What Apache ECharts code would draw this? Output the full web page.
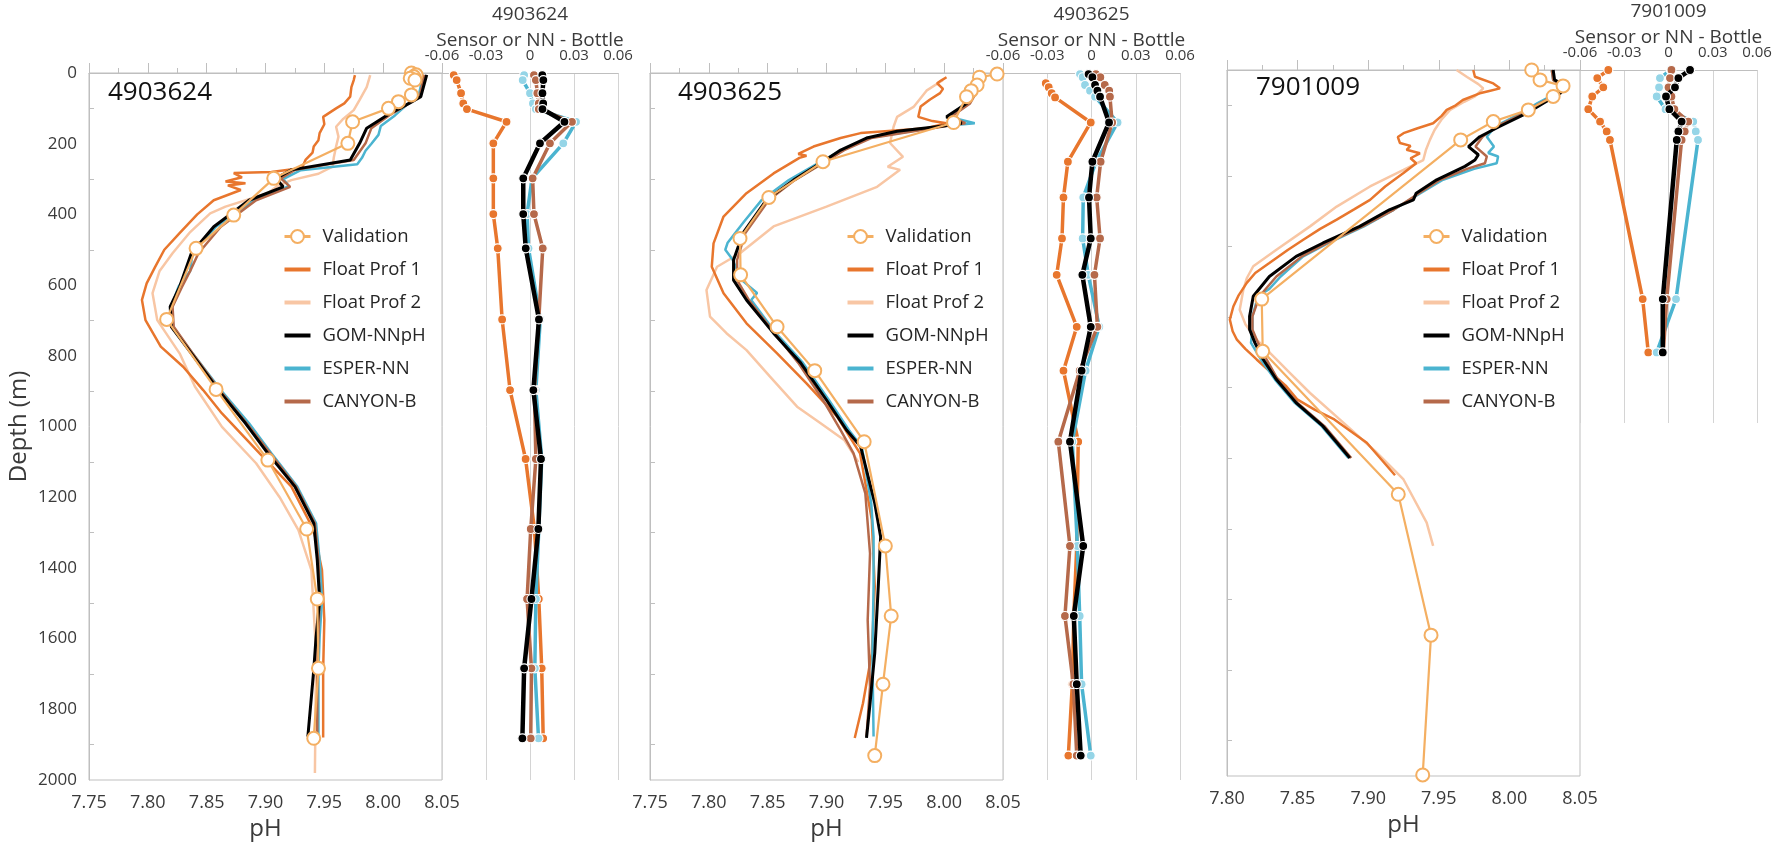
<!DOCTYPE html>
<html><head><meta charset="utf-8">
<script src="https://cdn.jsdelivr.net/npm/echarts/dist/echarts.min.js"></script>
<style>html,body{margin:0;padding:0;background:#fff}#c{width:1772px;height:847px}</style>
</head><body><div id="c"></div><script>
// ---------- Panel 1 (4903624) ----------
const P1_VAL_D  = [0,5,10,15,20,62,81,100,138,199,298,402,496,697,895,1095,1290,1488,1684,1882];
const P1_VAL_PH = [8.024,8.028,8.026,8.023,8.027,8.024,8.013,8.0045,7.974,7.970,7.907,7.873,7.841,7.816,7.858,7.902,7.935,7.944,7.945,7.941];
const P1_F1_D  = [6,20,40,67,86,100,124,145,170,190,208,225,246,269,280,283,295,307,312,318,331,360,400,453,500,550,595,642,699,774,831,897,963,1076,1170,1293,1406,1547,1689,1880];
const P1_F1_PH = [7.976,7.975,7.973,7.972,7.967,7.960,7.949,7.950,7.946,7.945,7.941,7.940,7.934,7.931,7.905,7.873,7.880,7.866,7.883,7.868,7.879,7.856,7.842,7.827,7.814,7.806,7.799,7.795,7.798,7.811,7.830,7.847,7.863,7.895,7.922,7.941,7.948,7.950,7.949,7.949];
const P1_F2_D  = [6,40,76,105,130,152,180,208,240,265,285,303,320,340,378,397,450,510,560,623,699,793,887,1001,1104,1200,1293,1406,1642,1980];
const P1_F2_PH = [7.989,7.986,7.980,7.975,7.966,7.960,7.962,7.960,7.958,7.957,7.945,7.922,7.910,7.902,7.866,7.853,7.836,7.821,7.810,7.804,7.808,7.827,7.840,7.863,7.892,7.912,7.928,7.939,7.943,7.942];
const P1_GOM_D  = [5,67,86,114,156,199,246,274,298,322,360,435,510,605,661,718,793,897,991,1076,1170,1274,1378,1491,1595,1689,1877];
const P1_GOM_PH = [8.037,8.032,8.022,8.006,7.986,7.980,7.972,7.922,7.909,7.915,7.886,7.856,7.837,7.827,7.819,7.820,7.837,7.860,7.883,7.902,7.925,7.941,7.944,7.946,7.943,7.941,7.936];
const P1_ESP_D  = [5,67,90,120,150,175,200,220,240,258,275,300,320,360,435,510,560,605,661,718,793,897,991,1076,1170,1274,1378,1491,1595,1689,1877];
const P1_ESP_PH = [8.034,8.030,8.020,8.010,7.998,7.996,7.990,7.985,7.982,7.978,7.930,7.915,7.920,7.890,7.858,7.838,7.836,7.826,7.820,7.821,7.838,7.862,7.886,7.905,7.927,7.943,7.946,7.948,7.946,7.945,7.945];
const P1_CAN_D  = [5,67,90,120,156,199,246,274,298,322,360,435,510,560,605,661,718,793,897,991,1076,1170,1274,1378,1491,1595,1689,1877];
const P1_CAN_PH = [8.035,8.031,8.020,8.005,7.990,7.985,7.975,7.925,7.913,7.921,7.892,7.862,7.843,7.836,7.829,7.821,7.822,7.838,7.861,7.884,7.904,7.926,7.942,7.945,7.946,7.945,7.944,7.944];
const P1_DIFF_D   = [6,20,57,86,102,138,199,298,399,496,697,897,1092,1290,1488,1684,1882];
const P1_DIFF_F1  = [-0.052,-0.050,-0.047,-0.0455,-0.043,-0.016,-0.025,-0.025,-0.025,-0.022,-0.019,-0.0136,-0.003,0.003,0.006,0.008,0.009];
const P1_DIFF_GOM = [0.0084,0.0091,0.0085,0.009,0.0085,0.0235,0.0068,-0.0046,-0.0046,-0.0029,0.0061,0.0023,0.0075,0.0057,0.001,-0.004,-0.0052];
const P1_DIFF_ESP = [-0.004,-0.005,0.0,0.002,0.004,0.0314,0.0227,0.0014,-0.002,-0.001,0.007,0.004,0.008,0.006,0.004,0.0033,0.0058];
const P1_DIFF_CAN = [0.0027,0.004,0.005,0.006,0.006,0.0286,0.0136,0.0018,0.0027,0.0087,0.006,0.003,0.004,0.0005,-0.002,0.001,0.0005];

// ---------- Panel 2 (4903625) ----------
const P2_VAL_D  = [3,12,34,50,67,140,251,352,468,571,718,842,1043,1338,1536,1729,1931];
const P2_VAL_PH = [8.045,8.030,8.028,8.023,8.019,8.008,7.897,7.851,7.8265,7.827,7.858,7.890,7.932,7.950,7.955,7.948,7.941];
const P2_F1_D  = [12,20,29,45,57,75,95,124,136,142,156,170,184,208,229,234,240,284,340,406,482,548,623,708,793,878,972,1076,1264,1453,1641,1783,1881];
const P2_F1_PH = [8.002,7.998,7.994,7.999,7.9965,7.988,7.980,7.978,7.990,8.002,7.985,7.929,7.912,7.889,7.876,7.883,7.877,7.855,7.832,7.8125,7.804,7.8025,7.8125,7.832,7.858,7.883,7.909,7.9285,7.9385,7.941,7.9385,7.931,7.924];
const P2_F2_D  = [20,50,96,124,152,198,237,265,274,322,378,434,510,548,614,689,736,784,859,944,991,1038,1100];
const P2_F2_PH = [7.999,7.985,7.974,7.960,7.957,7.954,7.965,7.952,7.9625,7.943,7.900,7.855,7.8265,7.807,7.798,7.801,7.815,7.832,7.852,7.875,7.895,7.915,7.927];
const P2_GOM_D  = [3,39,86,124,135,142,150,165,184,218,255,303,359,453,529,586,642,736,820,925,1010,1057,1217,1312,1453,1641,1783,1881];
const P2_GOM_PH = [8.029,8.028,8.019,8.002,8.008,8.015,7.999,7.960,7.934,7.912,7.895,7.872,7.849,7.829,7.821,7.821,7.832,7.855,7.878,7.900,7.917,7.929,7.941,7.946,7.944,7.941,7.937,7.934];
const P2_ESP_D  = [3,39,86,124,142,150,184,218,255,303,359,420,480,500,527,586,622,642,736,820,925,1010,1057,1217,1312,1453,1641,1877];
const P2_ESP_PH = [8.028,8.027,8.018,8.004,8.026,8.000,7.935,7.913,7.893,7.868,7.845,7.830,7.816,7.814,7.820,7.828,7.841,7.836,7.857,7.880,7.902,7.919,7.930,7.938,7.940,7.940,7.939,7.940];
const P2_CAN_D  = [3,39,86,124,142,150,184,218,255,303,359,453,529,586,642,736,820,925,1010,1076,1189,1359,1548,1736,1877];
const P2_CAN_PH = [8.030,8.030,8.022,8.006,8.018,8.002,7.938,7.915,7.897,7.873,7.851,7.831,7.824,7.824,7.834,7.856,7.876,7.897,7.912,7.923,7.933,7.937,7.935,7.937,7.934];
const P2_DIFF_D   = [3,12,34,50,67,140,251,352,468,571,718,842,1043,1338,1536,1729,1931];
const P2_DIFF_GOM = [-0.002,0.0006,0.0024,0.004,0.0058,0.0119,0.0006,-0.0017,-0.0005,-0.0062,-0.0005,-0.0067,-0.0146,-0.0056,-0.012,-0.010,-0.0073];
const P2_DIFF_ESP = [-0.0078,-0.006,-0.0044,-0.001,0.0024,0.0177,0.0031,-0.0056,-0.006,-0.0022,0.0053,-0.004,-0.013,-0.0096,-0.008,-0.0067,-0.0005];
const P2_DIFF_CAN = [0.003,0.006,0.009,0.012,0.0125,0.014,0.0062,0.0035,0.0058,0.002,0.004,-0.008,-0.0225,-0.0146,-0.018,-0.0123,-0.010];
const P2_DIFF_F1_D = [29,40,57,69,140,251,352,468,571,718,842,1043,1338,1536,1729,1931];
const P2_DIFF_F1   = [-0.031,-0.029,-0.027,-0.0247,-0.0005,-0.016,-0.019,-0.020,-0.0236,-0.010,-0.019,-0.009,-0.010,-0.012,-0.013,-0.0157];

// ---------- Panel 3 (7901009) ----------
const P3_VAL_D  = [0,28,45,75,113,146,198,649,797,1202,1601,1997];
const P3_VAL_PH = [8.0158,8.0217,8.038,8.031,8.0134,7.9886,7.9655,7.8246,7.8253,7.9213,7.9445,7.9386];
const P3_F1_D  = [0,19,38,52,60,66,85,100,113,130,151,165,179,190,207,215,226,236,250,264,292,330,368,395,424,450,481,510,547,575,603,640,670,707,740,764,790,820,860,896,934,962,990,1056,1148];
const P3_F1_PH = [7.9744,7.9756,7.9886,7.9933,7.985,7.979,7.967,7.962,7.9556,7.952,7.946,7.935,7.925,7.921,7.9225,7.930,7.9272,7.9366,7.930,7.934,7.925,7.912,7.9013,7.890,7.8777,7.866,7.854,7.843,7.830,7.820,7.814,7.808,7.8045,7.802,7.804,7.807,7.813,7.821,7.832,7.842,7.850,7.862,7.876,7.899,7.919];
const P3_F2_D  = [0,20,40,52,75,90,113,140,170,198,225,255,283,330,387,443,509,556,590,622,679,720,764,820,860,915,999,1080,1160,1282,1348];
const P3_F2_PH = [7.9626,7.970,7.978,7.9815,7.9756,7.968,7.958,7.952,7.947,7.9437,7.941,7.939,7.925,7.9013,7.8777,7.8588,7.835,7.8186,7.814,7.8116,7.809,7.813,7.821,7.835,7.845,7.8588,7.8824,7.905,7.925,7.9414,7.946];
const P3_GOM_D  = [0,28,47,66,94,123,160,189,217,240,255,273,311,349,368,396,443,490,528,585,641,698,735,773,820,877,943,1009,1099];
const P3_GOM_PH = [8.031,8.032,8.0405,8.036,8.024,8.012,7.993,7.979,7.971,7.978,7.9756,7.9685,7.9485,7.934,7.932,7.915,7.894,7.868,7.849,7.830,7.8186,7.816,7.816,7.8198,7.8257,7.835,7.849,7.868,7.887];
const P3_ESP_D  = [0,28,47,66,94,123,160,189,217,235,245,264,280,311,349,396,443,490,528,560,585,620,641,698,735,773,820,877,943,1009,1099];
const P3_ESP_PH = [8.030,8.031,8.039,8.033,8.020,8.008,7.990,7.984,7.989,7.985,7.992,7.991,7.975,7.953,7.937,7.918,7.897,7.872,7.854,7.845,7.838,7.830,7.822,7.818,7.818,7.817,7.824,7.834,7.848,7.867,7.886];
const P3_CAN_D  = [0,28,47,66,94,123,160,189,217,245,264,280,311,349,396,443,490,528,585,641,698,735,773,820,877,943,1009,1099];
const P3_CAN_PH = [8.030,8.031,8.038,8.034,8.022,8.010,7.991,7.981,7.976,7.984,7.9827,7.970,7.951,7.936,7.918,7.896,7.871,7.853,7.835,7.823,7.818,7.818,7.822,7.828,7.836,7.850,7.869,7.888];
const P3_DIFF_D   = [0,23,49,75,111,146,174,198,649,800];
const P3_DIFF_F1  = [-0.0408,-0.0483,-0.0442,-0.0517,-0.0544,-0.0464,-0.0419,-0.0397,-0.0175,-0.0137];
const P3_DIFF_GOM = [0.0146,0.0067,0.0044,-0.0017,0.0006,0.0089,0.0067,0.0056,-0.0039,-0.0039];
const P3_DIFF_ESP = [0.0015,-0.0058,-0.0064,-0.008,-0.002,0.0168,0.0185,0.020,0.0051,-0.008];
const P3_DIFF_CAN = [0.002,0.001,0.0,0.002,0.004,0.0134,0.011,0.0089,-0.0012,-0.0035];

// ---------- labels ----------
const PANEL_IDS = ['4903624','4903625','7901009'];
const SERIES_NAMES = ['Validation','Float Prof 1','Float Prof 2','GOM-NNpH','ESPER-NN','CANYON-B'];
const DIFF_TITLE = 'Sensor or NN - Bottle';
const DEPTH_TICKS = [0,2000,200];
const PH_TICKS_A = [7.75,8.05,0.05];
const PH_TICKS_B = [7.80,8.05,0.05];
const DIFF_TICKS = [-0.06,0.06,0.03];

// ---------- styling ----------
const C_VAL='#F4AF62', C_F1='#E8762D', C_F2='#F8C6A4', C_GOM='#000000', C_ESP='#4BB4D0', C_ESP_M='#95D5E7', C_CAN='#B5694A';
const GRAY='#BFBFBF', GRID_GRAY='#D4D4D4', TXT='#3a3a3a';
const FONT='"Open Sans", "Noto Sans", sans-serif';
const BAR_ICON='path://M0,0 M0,6 L26,6 L26,10 L0,10 Z M26,16';

function pts(vals, depths){ return vals.map((v,i)=>[v, depths[i]]); }

const grids = [
  {left:89,  top:73, width:353, height:707, show:true, borderColor:GRAY, borderWidth:1},
  {left:442, top:73, width:176, height:707},
  {left:650, top:73, width:353, height:707, show:true, borderColor:GRAY, borderWidth:1},
  {left:1003,top:73, width:177, height:707},
  {left:1227,top:70, width:353, height:706, show:true, borderColor:GRAY, borderWidth:1},
  {left:1580,top:70, width:177, height:353}
].map(g=>Object.assign({outerBoundsMode:'none', containLabel:false}, g));

function mainX(gi, ticks){
  return {gridIndex:gi, type:'value', position:'bottom', min:ticks[0], max:ticks[1], interval:ticks[2],
    name:'pH', nameLocation:'middle', nameGap:37, nameMoveOverlap:false, nameTextStyle:{fontSize:24, color:TXT, fontFamily:FONT},
    axisLine:{show:true, lineStyle:{color:GRAY, width:1}},
    axisTick:{show:true, inside:true, length:10, lineStyle:{color:GRAY}},
    minorTick:{show:true, splitNumber:2, length:5, lineStyle:{color:GRAY}},
    splitLine:{show:false},
    axisLabel:{fontSize:18, color:TXT, fontFamily:FONT, margin:14, hideOverlap:false, showMinLabel:true, showMaxLabel:true,
      formatter:v=>v.toFixed(2)}};
}
function diffX(gi, title){
  return {gridIndex:gi, type:'value', position:'top', min:DIFF_TICKS[0], max:DIFF_TICKS[1], interval:DIFF_TICKS[2],
    name:title+'\n'+DIFF_TITLE, nameLocation:'middle', nameGap:19.5, nameMoveOverlap:false,
    nameTextStyle:{fontSize:19, color:TXT, fontFamily:FONT, lineHeight:26},
    axisLine:{show:true, lineStyle:{color:GRAY, width:1}},
    axisTick:{show:false},
    splitLine:{show:true, lineStyle:{color:GRID_GRAY, width:1}},
    axisLabel:{fontSize:15, color:TXT, fontFamily:FONT, margin:10, hideOverlap:false, showMinLabel:true, showMaxLabel:true,
      formatter:v=>Math.abs(v)<1e-9?'0':v.toFixed(2)}};
}
function mainY(gi, withLabels){
  const y = {gridIndex:gi, type:'value', inverse:true, min:DEPTH_TICKS[0], max:DEPTH_TICKS[1], interval:DEPTH_TICKS[2],
    axisLine:{show:true, lineStyle:{color:GRAY, width:1}},
    axisTick:{show:false, inside:true},
    minorTick:{show:true, splitNumber:2, length:5, lineStyle:{color:GRAY}},
    splitLine:{show:false},
    axisLabel:{show:withLabels, fontSize:17, color:TXT, fontFamily:FONT, margin:12, hideOverlap:false, showMinLabel:true, showMaxLabel:true,
      formatter:v=>String(Math.round(v))}};
  if(withLabels){ y.name='Depth (m)'; y.nameLocation='middle'; y.nameRotate=90; y.nameGap=58; y.nameMoveOverlap=false;
    y.nameTextStyle={fontSize:24, color:TXT, fontFamily:FONT}; }
  return y;
}
function diffY(gi, max){
  return {gridIndex:gi, type:'value', inverse:true, min:0, max:max, show:false, splitLine:{show:false}};
}

const xAxes=[mainX(0,PH_TICKS_A), diffX(1,PANEL_IDS[0]), mainX(2,PH_TICKS_A), diffX(3,PANEL_IDS[1]), mainX(4,PH_TICKS_B), diffX(5,PANEL_IDS[2])];
const yAxes=[mainY(0,true), diffY(1,2000), mainY(2,false), diffY(3,2000), mainY(4,false), diffY(5,1000)];

function line(name, gi, vals, depths, color, width, z){
  return {type:'line', name, xAxisIndex:gi, yAxisIndex:gi, data:pts(vals,depths), symbol:'none', showSymbol:false,
    lineStyle:{color, width}, itemStyle:{color}, z, animation:false, silent:true};
}
function valid(gi, vals, depths){
  return {type:'line', name:'Validation', xAxisIndex:gi, yAxisIndex:gi, data:pts(vals,depths), symbol:'emptyCircle', symbolSize:13,
    showSymbol:true, showAllSymbol:true, lineStyle:{color:C_VAL, width:2.2}, itemStyle:{color:C_VAL, borderColor:C_VAL, borderWidth:2.2},
    z:8, animation:false, silent:true};
}
function diff(name, gi, vals, depths, color, mColor, z, w){
  return {type:'line', name, xAxisIndex:gi, yAxisIndex:gi, data:pts(vals,depths), symbol:'circle', symbolSize:9,
    showSymbol:true, showAllSymbol:true, lineStyle:{color, width:w}, itemStyle:{color:mColor, borderColor:'#fff', borderWidth:1.2},
    z, animation:false, silent:true};
}
function panel(gi, dgi, d){
  return [
    line('Float Prof 2', gi, d.f2, d.f2d, C_F2, 2.5, 2),
    line('Float Prof 1', gi, d.f1, d.f1d, C_F1, 2.5, 3),
    line('ESPER-NN', gi, d.esp, d.espd, C_ESP, 2.5, 4),
    line('CANYON-B', gi, d.can, d.cand, C_CAN, 2.5, 5),
    line('GOM-NNpH', gi, d.gom, d.gomd, C_GOM, 3, 6),
    valid(gi, d.val, d.vald),
    diff('Float Prof 1', dgi, d.df1, d.df1d, C_F1, C_F1, 3, 3.5),
    diff('ESPER-NN', dgi, d.desp, d.dd, C_ESP, C_ESP_M, 4, 3.5),
    diff('CANYON-B', dgi, d.dcan, d.dd, C_CAN, C_CAN, 5, 3.5),
    diff('GOM-NNpH', dgi, d.dgom, d.dd, C_GOM, C_GOM, 6, 4.5)
  ];
}
const series = [].concat(
  panel(0,1,{f2:P1_F2_PH,f2d:P1_F2_D,f1:P1_F1_PH,f1d:P1_F1_D,esp:P1_ESP_PH,espd:P1_ESP_D,can:P1_CAN_PH,cand:P1_CAN_D,gom:P1_GOM_PH,gomd:P1_GOM_D,val:P1_VAL_PH,vald:P1_VAL_D,
    df1:P1_DIFF_F1,df1d:P1_DIFF_D,desp:P1_DIFF_ESP,dcan:P1_DIFF_CAN,dgom:P1_DIFF_GOM,dd:P1_DIFF_D}),
  panel(2,3,{f2:P2_F2_PH,f2d:P2_F2_D,f1:P2_F1_PH,f1d:P2_F1_D,esp:P2_ESP_PH,espd:P2_ESP_D,can:P2_CAN_PH,cand:P2_CAN_D,gom:P2_GOM_PH,gomd:P2_GOM_D,val:P2_VAL_PH,vald:P2_VAL_D,
    df1:P2_DIFF_F1,df1d:P2_DIFF_F1_D,desp:P2_DIFF_ESP,dcan:P2_DIFF_CAN,dgom:P2_DIFF_GOM,dd:P2_DIFF_D}),
  panel(4,5,{f2:P3_F2_PH,f2d:P3_F2_D,f1:P3_F1_PH,f1d:P3_F1_D,esp:P3_ESP_PH,espd:P3_ESP_D,can:P3_CAN_PH,cand:P3_CAN_D,gom:P3_GOM_PH,gomd:P3_GOM_D,val:P3_VAL_PH,vald:P3_VAL_D,
    df1:P3_DIFF_F1,df1d:P3_DIFF_D,desp:P3_DIFF_ESP,dcan:P3_DIFF_CAN,dgom:P3_DIFF_GOM,dd:P3_DIFF_D})
);

function legend(left, top){
  return {left, top, orient:'vertical', padding:0, itemWidth:26, itemHeight:16, itemGap:14, selectedMode:false,
    data:SERIES_NAMES.map(n=> n==='Validation' ? {name:n} : {name:n, icon:BAR_ICON}),
    textStyle:{fontSize:18.5, color:'#262626', fontFamily:FONT, padding:[0,0,0,7]},
    lineStyle:{width:3}};
}
function panelTitle(text, left, top){
  return {text, left, top, padding:0, textStyle:{fontSize:26, fontWeight:'normal', color:'#111', fontFamily:FONT}};
}

const chart = echarts.init(document.getElementById('c'), null, {renderer:'canvas'});
chart.setOption({
  backgroundColor:'#ffffff',
  animation:false,
  title:[panelTitle(PANEL_IDS[0],108,80), panelTitle(PANEL_IDS[1],678,80), panelTitle(PANEL_IDS[2],1256,75)],
  legend:[legend(283,227), legend(846,227), legend(1422,227)],
  grid:grids, xAxis:xAxes, yAxis:yAxes, series
});
</script></body></html>
